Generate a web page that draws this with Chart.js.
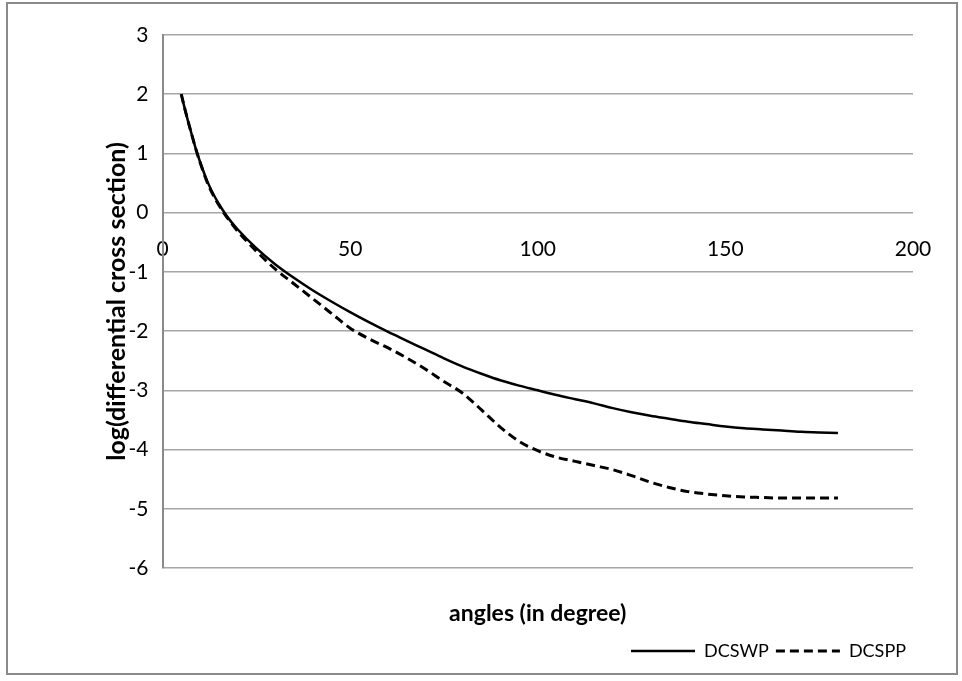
<!DOCTYPE html>
<html>
<head>
<meta charset="utf-8">
<script src="https://cdn.jsdelivr.net/npm/chart.js@4.4.1/dist/chart.umd.min.js"></script>
<style>
  html, body { margin: 0; padding: 0; background: #fff; }
  #wrap { position: relative; width: 962px; height: 681px; }
  #frame {
    position: absolute; left: 6px; top: 2px; width: 952px; height: 673px;
    box-sizing: border-box; border: 2px solid #8a8a8a; pointer-events: none;
  }
  canvas { position: absolute; left: 0; top: 0; }
</style>
</head>
<body>
<div id="wrap">
  <canvas id="dcsChart" width="962" height="681"></canvas>
  <div id="frame"></div>
</div>
<script>
// angles in degree
const angles = [5, 6, 7, 8, 9, 10, 12, 14, 16, 18, 20, 25, 30, 35, 40, 45, 50, 55, 60, 65, 70, 75, 80, 85, 90,
  95, 100, 105, 110, 115, 120, 125, 130, 135, 140, 145, 150, 155, 160, 165, 170, 175, 180];

// log(differential cross section)
const dcswp = [2.0, 1.74, 1.5, 1.27, 1.05, 0.86, 0.52, 0.26, 0.05, -0.13, -0.28, -0.6, -0.87, -1.1, -1.31, -1.5,
  -1.68, -1.85, -2.01, -2.16, -2.31, -2.46, -2.6, -2.72, -2.83, -2.92, -3.0, -3.08, -3.15, -3.22, -3.3, -3.37,
  -3.43, -3.48, -3.53, -3.57, -3.61, -3.64, -3.66, -3.68, -3.7, -3.71, -3.72];

const dcspp = [2.0, 1.74, 1.5, 1.27, 1.05, 0.85, 0.5, 0.24, 0.03, -0.15, -0.31, -0.65, -0.95, -1.2, -1.45, -1.7,
  -1.95, -2.13, -2.28, -2.45, -2.64, -2.85, -3.05, -3.33, -3.62, -3.86, -4.02, -4.13, -4.2, -4.27, -4.34, -4.44,
  -4.55, -4.64, -4.71, -4.75, -4.78, -4.8, -4.81, -4.82, -4.82, -4.82, -4.82];

const xTicks = { min: 0, max: 200, step: 50 };
const yTicks = { min: -6, max: 3, step: 1 };

const toPoints = (ys) => angles.map((a, i) => ({ x: a, y: ys[i] }));

const ctx = document.getElementById('dcsChart').getContext('2d');

new Chart(ctx, {
  type: 'line',
  data: {
    datasets: [
      {
        label: 'DCSWP',
        data: toPoints(dcswp),
        borderColor: '#000',
        borderWidth: 2.5,
        pointRadius: 0,
        cubicInterpolationMode: 'monotone',
        fill: false,
      },
      {
        label: 'DCSPP',
        data: toPoints(dcspp),
        borderColor: '#000',
        borderWidth: 3,
        borderDash: [9, 5],
        pointRadius: 0,
        cubicInterpolationMode: 'monotone',
        fill: false,
      },
    ],
  },
  options: {
    responsive: false,
    animation: false,
    layout: { padding: { left: 0, top: 35, right: 49, bottom: 11 } },
    font: { family: 'Lato' },
    plugins: {
      tooltip: { enabled: false },
      legend: {
        position: 'bottom',
        align: 'end',
        labels: {
          color: '#000',
          font: { family: 'Lato', size: 18 },
          usePointStyle: true,
          pointStyleWidth: 64,
          padding: 7,
          // line samples taken from the dataset, not from its points
          generateLabels: (chart) => chart.data.datasets.map((ds, i) => ({
            text: ds.label,
            datasetIndex: i,
            fillStyle: ds.borderColor,
            strokeStyle: ds.borderColor,
            fontColor: '#000',
            lineWidth: ds.borderWidth,
            lineDash: ds.borderDash || [],
            pointStyle: 'line',
            hidden: false,
          })),
        },
      },
    },
    scales: {
      x: {
        type: 'linear',
        position: { y: 0 },
        min: xTicks.min,
        max: xTicks.max,
        grid: { display: false, drawTicks: false },
        border: { display: false },
        ticks: {
          stepSize: xTicks.step,
          color: '#000',
          padding: 24,
          font: { family: 'Lato', size: 21 },
          maxRotation: 0,
        },
      },
      x2: {
        type: 'linear',
        position: 'bottom',
        min: xTicks.min,
        max: xTicks.max,
        grid: { display: false },
        border: { display: false },
        ticks: { display: false },
        title: {
          display: true,
          text: 'angles (in degree)',
          color: '#000',
          font: { family: 'Lato', size: 23, weight: 'bold' },
          padding: { top: 0, bottom: 8 },
        },
        afterFit: (scale) => { scale.height = 67; },
      },
      y: {
        type: 'linear',
        position: 'left',
        min: yTicks.min,
        max: yTicks.max,
        grid: { color: '#a6a6a6', lineWidth: 1.5, drawTicks: false },
        border: { color: '#8a8a8a', width: 2 },
        ticks: {
          stepSize: yTicks.step,
          color: '#000',
          padding: 14,
          font: { family: 'Lato', size: 21 },
        },
        title: {
          display: true,
          text: 'log(differential cross section)',
          color: '#000',
          font: { family: 'Lato', size: 25, weight: 'bold' },
          padding: { top: 102, bottom: 0 },
        },
        afterFit: (scale) => { scale.width = 162.5; },
      },
    },
  },
});
</script>
</body>
</html>
